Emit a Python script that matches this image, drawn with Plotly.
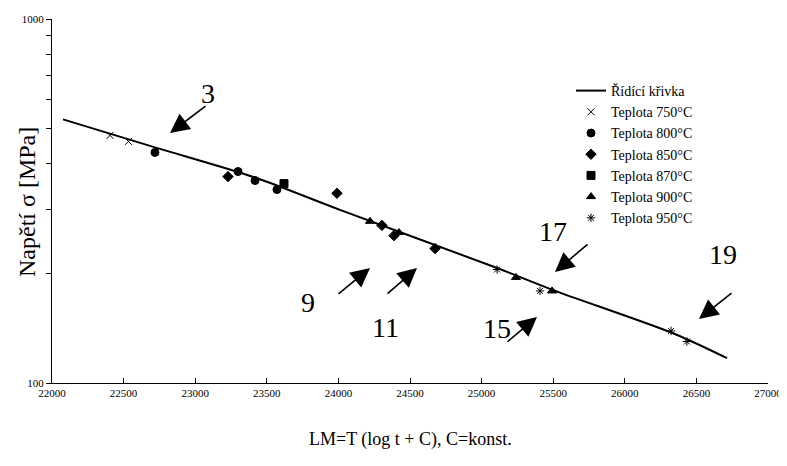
import plotly.graph_objects as go

# ---- data ----
curve_x = [22077, 22719, 23418, 24011, 25108, 25499, 26337, 26714]
curve_y = [530, 444, 367, 299, 207, 180, 137, 117]

t750_x = [22405, 22534]
t750_y = [479, 461]
t800_x = [22719, 23299, 23418, 23571]
t800_y = [430, 381, 360, 340]
t850_x = [23229, 23990, 24304, 24388, 24675]
t850_y = [369, 332, 271, 254, 234]
t870_x = [23620]
t870_y = [353]
t900_x = [24221, 24423, 25240, 25492]
t900_y = [278, 259, 195, 179]
t950_x = [25108, 25408, 26323, 26434]
t950_y = [205, 179, 139, 130]

x_ticks = [22000, 22500, 23000, 23500, 24000, 24500, 25000, 25500, 26000, 26500, 27000]
x_ticktext = [str(v) for v in x_ticks]
y_ticks = [100, 200, 300, 400, 500, 600, 700, 800, 900, 1000]
y_ticktext = ["100", "", "", "", "", "", "", "", "", "1000"]

labels = ["3", "9", "11", "15", "17", "19"]

FONT = "Liberation Serif, Times New Roman, serif"
# page has an 8px body margin: figure sized so the plot area lands at x 52..768, y 19..383
W, H = 779, 458
L, R, T, B = 44, 19, 11, 83
PX0, PX1, PY0, PY1 = 52, 768, 19, 383


def px(xp, yp):
    return (xp - PX0) / (PX1 - PX0), (PY1 - yp) / (PY1 - PY0)


fig = go.Figure()
fig.add_trace(go.Scatter(x=curve_x, y=curve_y, mode="lines", name="Řídící křivka",
                         line=dict(color="black", width=2, shape="spline", smoothing=0.8)))

series = [
    ("Teplota 750°C", t750_x, t750_y, "x-thin-open", 7),
    ("Teplota 800°C", t800_x, t800_y, "circle", 8),
    ("Teplota 850°C", t850_x, t850_y, "diamond", 8),
    ("Teplota 870°C", t870_x, t870_y, "square", 8),
    ("Teplota 900°C", t900_x, t900_y, "triangle-up", 8),
    ("Teplota 950°C", t950_x, t950_y, "asterisk-open", 7),
]
for name, xs, ys, sym, sz in series:
    fig.add_trace(go.Scatter(x=xs, y=ys, mode="markers", name=name,
                             marker=dict(symbol=sym, size=sz, color="black",
                                         line=dict(color="black", width=1))))

# arrows (tail -> tip, in pixels)
arrows = [((207, 105), (170, 133)), ((337, 295), (370, 268)), ((386, 295), (417, 268)),
          ((506, 343), (537, 317)), ((589, 243), (555, 272)), ((733, 292), (699, 319))]
label_pos = [(208, 93), (308, 302), (385, 327), (497, 328), (553, 232), (723, 255)]

annotations = []
for (tail, tip) in arrows:
    x, y = px(*tip)
    annotations.append(dict(xref="paper", yref="paper", x=x, y=y, text="",
                            showarrow=True, axref="pixel", ayref="pixel",
                            ax=tail[0] - tip[0], ay=tail[1] - tip[1],
                            arrowhead=2, arrowsize=2.4, arrowwidth=1.6, arrowcolor="black"))
for lab, (lx, ly) in zip(labels, label_pos):
    x, y = px(lx, ly)
    annotations.append(dict(xref="paper", yref="paper", x=x, y=y, text=lab, showarrow=False,
                            xanchor="center", yanchor="middle",
                            font=dict(family=FONT, size=28, color="black")))

# axis titles
x, y = px(410, 440)
annotations.append(dict(xref="paper", yref="paper", x=x, y=y, text="LM=T (log t + C), C=konst.",
                        showarrow=False, xanchor="center", yanchor="middle",
                        font=dict(family=FONT, size=18, color="black")))
x, y = px(27, 202)
annotations.append(dict(xref="paper", yref="paper", x=x, y=y, text="Napětí σ [MPa]",
                        showarrow=False, xanchor="center", yanchor="middle", textangle=-90,
                        font=dict(family=FONT, size=24, color="black")))

lx, ly = px(571, 75)
fig.update_layout(
    width=W, height=H,
    margin=dict(l=L, r=R, t=T, b=B, autoexpand=False),
    paper_bgcolor="white", plot_bgcolor="white",
    font=dict(family=FONT, size=11, color="black"),
    showlegend=True,
    legend=dict(x=lx, y=ly, xanchor="left", yanchor="top", bgcolor="rgba(0,0,0,0)",
                font=dict(family=FONT, size=14, color="black"), tracegroupgap=0),
    annotations=annotations,
)
fig.update_xaxes(range=[22000, 27000], tickvals=x_ticks, ticktext=x_ticktext,
                 ticks="inside", ticklen=5, automargin=False,
                 showline=True, linecolor="black", linewidth=1, showgrid=False, zeroline=False,
                 tickfont=dict(family=FONT, size=11, color="black"), tickcolor="black")
fig.update_yaxes(type="log", range=[2, 3], tickvals=y_ticks, ticktext=y_ticktext,
                 ticks="outside", ticklen=5, automargin=False,
                 showline=True, linecolor="black", linewidth=1,
                 showgrid=False, zeroline=False, tickcolor="black",
                 tickfont=dict(family=FONT, size=11, color="black"))

fig.write_html("out.html")
